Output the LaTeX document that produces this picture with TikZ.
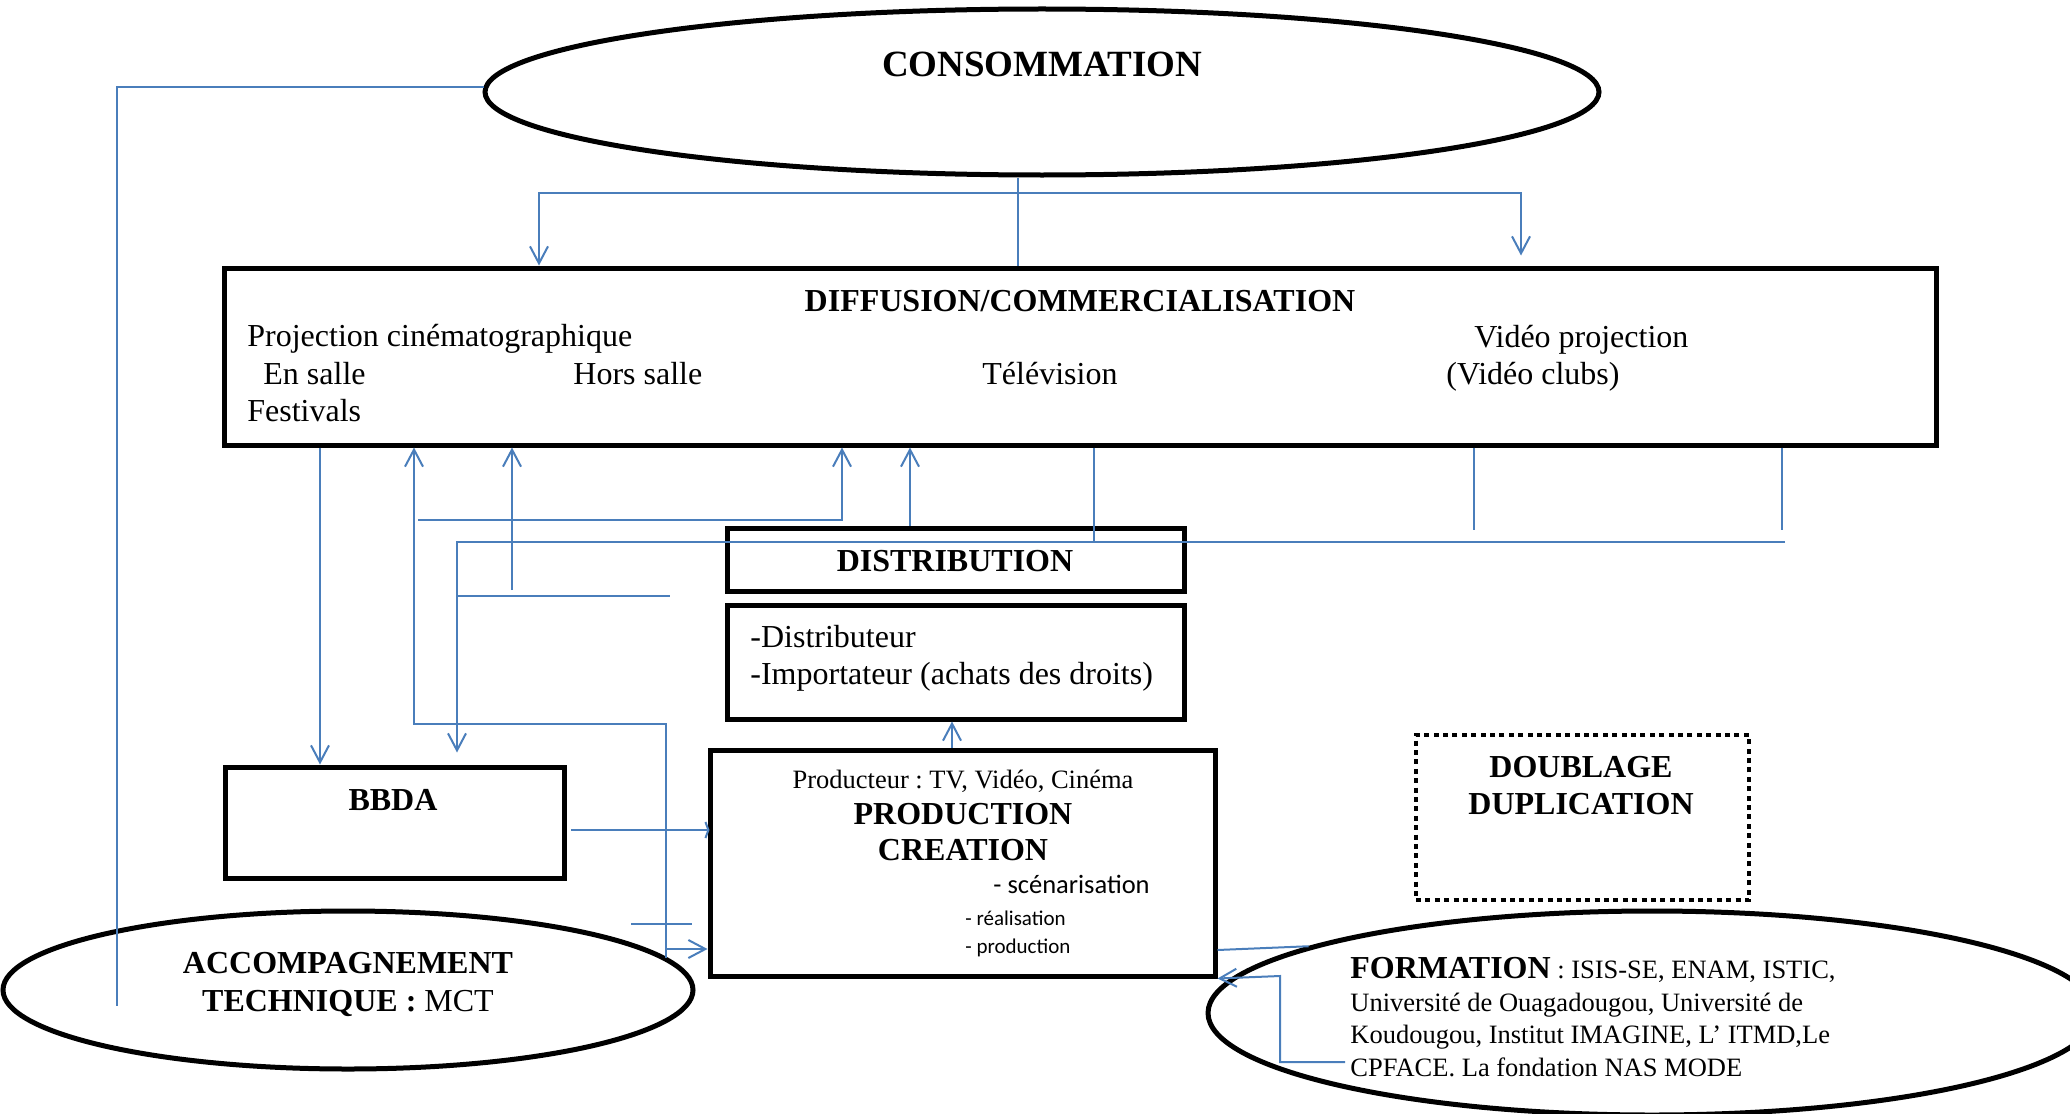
\documentclass[tikz,border=0pt]{standalone}
\usepackage{fontspec}
\setmainfont{Liberation Serif}
\newfontfamily\calib{Carlito}
\usetikzlibrary{shapes.geometric,arrows.meta,calc}
\definecolor{lnblue}{RGB}{74,126,187}
\frenchspacing
\begin{document}
\begin{tikzpicture}[x=0.5pt,y=-0.5pt,
  conn/.style={draw=lnblue,line width=1pt},
  arr/.style={conn,-{Straight Barb[length=8.5pt,width=9pt]}},
  box/.style={draw,line width=2.5pt,rectangle,inner sep=0pt},
  ell/.style={draw,line width=2.5pt,ellipse,inner sep=0pt},
  dotbox/.style={draw,line width=2pt,dash pattern=on 2.5pt off 2.2pt,rectangle,inner sep=0pt},
  txt/.style={inner sep=0pt,anchor=base},
  txtw/.style={inner sep=0pt,anchor=base west},
  fR/.style={font=\fontsize{16pt}{19pt}\selectfont},
  fBd/.style={font=\fontsize{16pt}{19pt}\selectfont\bfseries},
  fS/.style={font=\fontsize{13.25pt}{16pt}\selectfont},
  fC/.style={font=\calib\fontsize{13.25pt}{16pt}\selectfont},
  fCs/.style={font=\calib\fontsize{10.5pt}{12pt}\selectfont},
  fT/.style={font=\fontsize{18.5pt}{22pt}\selectfont\bfseries}]
\useasboundingbox (0,0) rectangle (2070,1113);

% ---- shapes ----
\node[ell,minimum width=557pt,minimum height=83pt] (cons) at (1042,92) {};
\node[txt,fT] (consT) at (1042,77) {CONSOMMATION};

\node[box,minimum width=856pt,minimum height=88.5pt] (diff) at (1080,356.5) {};
\node[txt,fBd] (diffT) at (1080,311) {DIFFUSION/COMMERCIALISATION};
\node[txtw,fR] (d1) at (247,346) {Projection cinématographique};
\node[txtw,fR] (d2) at (263,384) {En salle};
\node[txtw,fR] (d3) at (573,384) {Hors salle};
\node[txtw,fR] (d4) at (982,384) {Télévision};
\node[txtw,fR] (d5) at (1474,347) {Vidéo projection};
\node[txtw,fR] (d6) at (1446,384) {(Vidéo clubs)};
\node[txtw,fR] (d7) at (247,421) {Festivals};

\node[box,minimum width=228.5pt,minimum height=31.5pt] (dist) at (955.5,559.5) {};
\node[txt,fBd] (distT) at (955,571) {DISTRIBUTION};

\node[box,minimum width=228.5pt,minimum height=57pt] (distb) at (955.5,662) {};
\node[txtw,fR] (db1) at (750,647) {-Distributeur};
\node[txtw,fR] (db2) at (750,684) {-Importateur (achats des droits)};

\node[box,minimum width=252.5pt,minimum height=113pt] (prod) at (962.5,863) {};
\node[txt,fS] (p1) at (963,788) {Producteur : TV, Vidéo, Cinéma};
\node[txt,fBd] (p2) at (963,824) {PRODUCTION};
\node[txt,fBd] (p3) at (963,860) {CREATION};
\node[txtw,fC] (p4) at (993,893) {- scénarisation};
\node[txtw,fCs] (p5) at (965,925) {- réalisation};
\node[txtw,fCs] (p6) at (965,953) {- production};

\node[box,minimum width=169.5pt,minimum height=55.5pt] (bbda) at (394.5,822.5) {};
\node[txt,fBd] (bbdaT) at (393,810) {BBDA};

\node[dotbox,minimum width=166.5pt,minimum height=82.5pt] (doub) at (1582.5,817.5) {};
\node[txt,fBd] (dbl1) at (1581,777) {DOUBLAGE};
\node[txt,fBd] (dbl2) at (1581,814) {DUPLICATION};

\node[ell,minimum width=345pt,minimum height=79pt] (acc) at (348,990) {};
\node[txt,fBd] (acc1) at (348,973) {ACCOMPAGNEMENT};
\node[txt,fR] (acc2) at (348,1011.5) {\textbf{TECHNIQUE :} MCT};

\node[ell,minimum width=444pt,minimum height=102pt] (form) at (1652,1013) {};
\node[txtw,fBd] (f1) at (1350,978) {FORMATION\fontsize{13.25pt}{16pt}\selectfont\mdseries{} : ISIS-SE, ENAM, ISTIC,};
\node[txtw,fS] (f2) at (1350,1011) {Université de Ouagadougou, Université de};
\node[txtw,fS] (f3) at (1350,1043) {Koudougou, Institut IMAGINE, L’ ITMD,Le};
\node[txtw,fS] (f4) at (1350,1076) {CPFACE. La fondation NAS MODE};

% ---- x positions of vertical connectors ----
\coordinate (x320) at (320,0);
\coordinate (x414) at (414,0);
\coordinate (x457) at (457,0);
\coordinate (x539) at (539,0);
\coordinate (x842) at (842,0);
\coordinate (x910) at (910,0);
\coordinate (x952) at (952,0);
\coordinate (x1018) at (1018,0);
\coordinate (x1521) at (1521,0);

% ---- connectors ----
\coordinate (accL) at (117,1006);
\draw[conn] ($(cons.west)+(1,-5)$) -| (accL);

\draw[conn] (cons.south -| x1018) -- (diff.north -| x1018);
\coordinate (jc) at (1018,193);
\draw[arr] (jc) -| (diff.north -| x539);
\draw[arr] (jc) -| ($(diff.north -| x1521)+(0,-10)$);

\draw[arr] (diff.south -| x320) -- (bbda.north -| x320);

\coordinate (accR) at (666,958);
\draw[arr] (accR) |- (414,724) -- (diff.south -| x414);
\coordinate (jA) at (666,949);
\draw[arr] (jA) -- (prod.west |- jA);

\coordinate (fA3) at (512,590);
\draw[arr] (fA3) -- (diff.south -| fA3);

\coordinate (fA4) at (418,520);
\draw[arr] (fA4) -| (diff.south -| x842);

\draw[arr] (dist.north -| x910) -- (diff.south -| x910);

\coordinate (jB) at (1094,542);
\draw[conn] (diff.south -| jB) -- (jB);
\coordinate (fA6) at (1785,542);
\draw[arr] (fA6) -- (457,542) -- ($(bbda.north -| x457)+(0,-12)$);
\coordinate (fA6b) at (1474,530);
\draw[conn] (diff.south -| fA6b) -- (fA6b);
\coordinate (fA6c) at (1782,530);
\draw[conn] (diff.south -| fA6c) -- (fA6c);

\coordinate (s1a) at (457,596);
\coordinate (s1b) at (670,596);
\draw[conn] (s1a) -- (s1b);

\draw[arr] (prod.north -| x952) -- (distb.south -| x952);

\coordinate (jD) at (571,830);
\draw[conn,-{Straight Barb[length=1.5pt,width=8pt]}] (jD) -- ($(prod.west |- jD)+(2,0)$);

\coordinate (s2a) at (631,924);
\coordinate (s2b) at (692,924);
\draw[conn] (s2a) -- (s2b);

\coordinate (jE) at (1217,950);
\draw[conn] (prod.east |- jE) -- (form.169.8);

\coordinate (fA11) at (1345,1062);
\draw[arr] (fA11) -| (1280,976) -- (prod.south east);
\end{tikzpicture}
\end{document}
